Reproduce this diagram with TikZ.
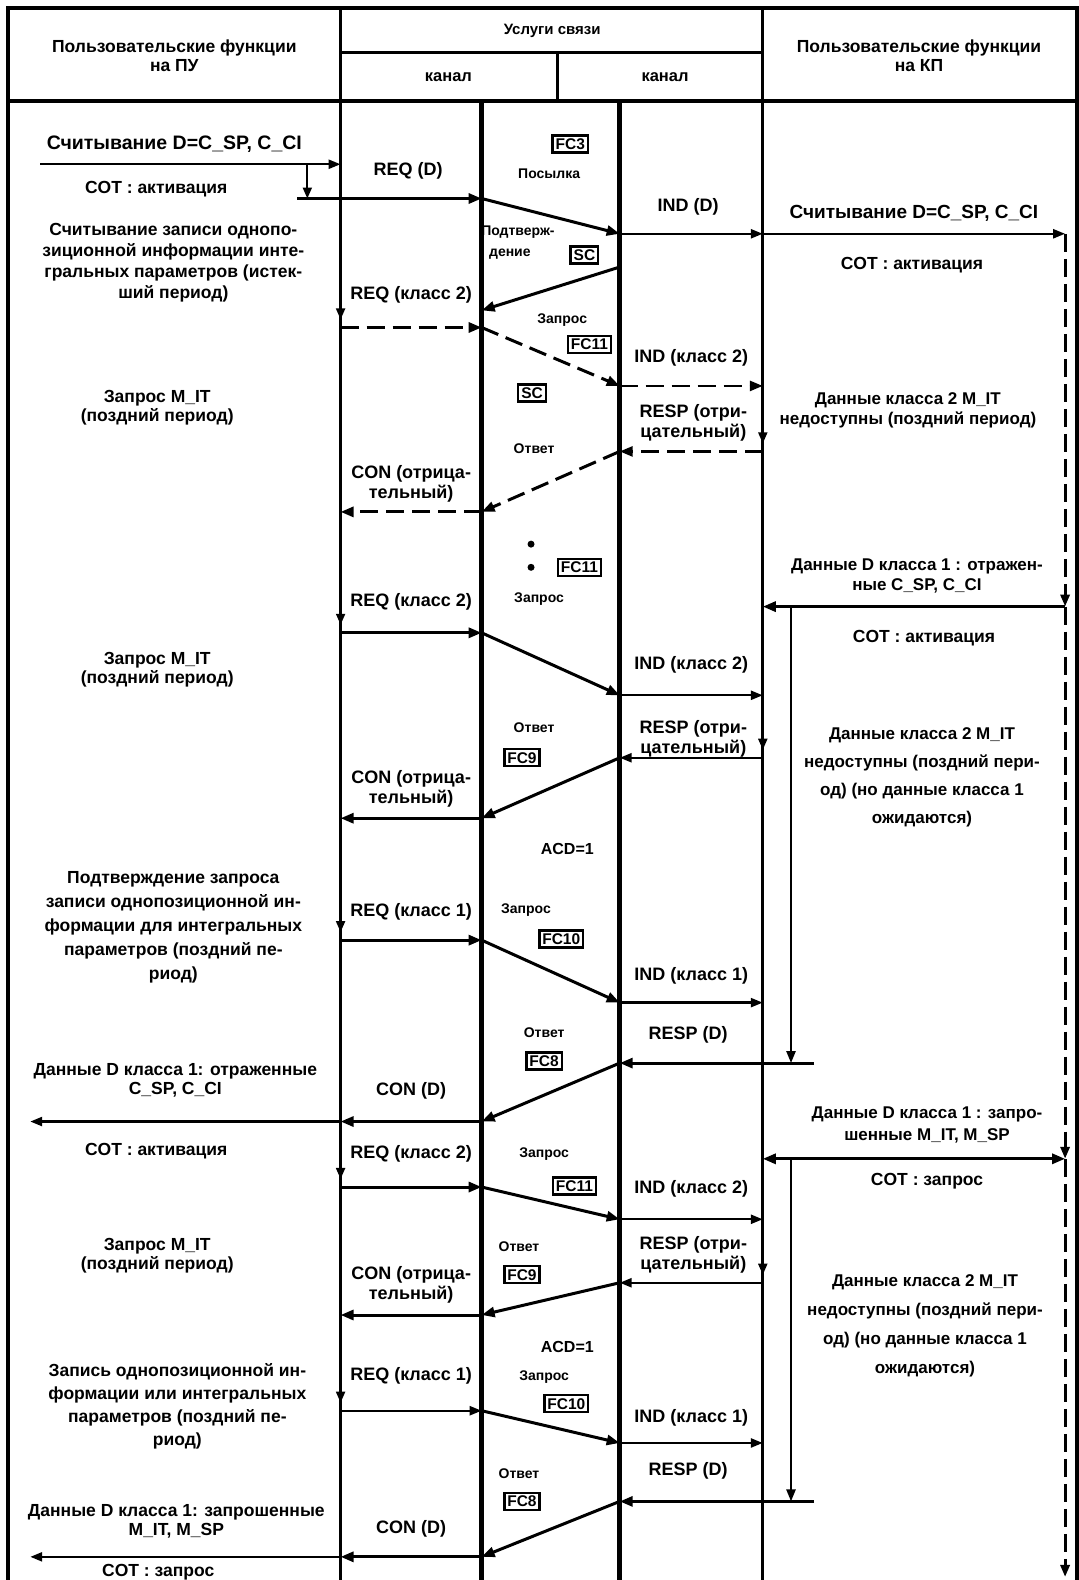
\documentclass[tikz,border=0pt]{standalone}
\usepackage{fontspec}
\setmainfont{Liberation Sans}
\usetikzlibrary{arrows.meta}
\begin{document}
\begin{tikzpicture}[x=1.0075pt,y=-1.0075pt,
  base/.style={inner sep=0pt,align=center,font=\bfseries\fontsize{17.5}{21}\selectfont},
  txt/.style={base},
  lbl/.style={base,font=\bfseries\fontsize{18}{20}\selectfont},
  note/.style={base,font=\bfseries\fontsize{14}{16}\selectfont},
  hdr/.style={base,font=\bfseries\fontsize{17.5}{19}\selectfont},
  fc/.style={draw,line width=2.4pt,inner xsep=3pt,inner ysep=3pt,font=\bfseries\fontsize{15.5}{17}\selectfont},
  outline/.style={line width=3.5pt},
  lane/.style={line width=3pt},
  wlane/.style={line width=4.5pt},
  msg/.style={line width=3pt,-{Triangle[length=13pt,width=10pt]}},
  slim/.style={line width=2.4pt,-{Triangle[length=12pt,width=9pt]}},
  dmsg/.style={msg,dash pattern=on 18pt off 8pt},
  rdash/.style={line width=3pt,dash pattern=on 18pt off 7pt,-{Triangle[length=12pt,width=9pt]}},
  flowtick/.style={line width=2pt,-{Triangle[length=11pt,width=9pt]}},
  dot/.style={circle,fill,inner sep=0pt,minimum size=7pt},
]
\useasboundingbox (0,0) rectangle (1070,1568);

% ---------- frame, header and lanes ----------
\draw[outline] (8,1568) -- (8,8) -- (1069,8) -- (1069,1568);
\draw[outline] (8,100) -- (1069,100);
\draw[lane] (338,8) -- (338,1568);
\draw[lane] (757,8) -- (757,1568);
\draw[lane] (338,52) -- (757,52);
\draw[lane] (553,52) -- (553,100);
\draw[wlane] (478,100) -- (478,1568);
\draw[wlane] (615,100) -- (615,1568);

\node[hdr] (hL) at (173,55) {Пользовательские функции\\на ПУ};
\node[hdr,font=\bfseries\fontsize{15}{17}\selectfont] (hM) at (548,31) {Услуги связи};
\node[hdr,font=\bfseries\fontsize{16.5}{18}\selectfont] (hC1) at (445,77) {канал};
\node[hdr,font=\bfseries\fontsize{16.5}{18}\selectfont] (hC2) at (660,77) {канал};
\node[hdr] (hR) at (912,55) {Пользовательские функции\\на КП};

% ---------- message points ----------
\coordinate (s0) at (40,163);   \coordinate (s1) at (338,163);
\coordinate (v0) at (305,163);  \coordinate (v1) at (305,197);
\coordinate (g1a) at (295,197); \coordinate (g1b) at (478,197);
\coordinate (g1c) at (615,232); \coordinate (g1d) at (757,232);
\coordinate (g1e) at (1057,232);
\coordinate (g2c) at (615,265); \coordinate (g2b) at (478,308);
\coordinate (g3a) at (338,325); \coordinate (g3b) at (478,325);
\coordinate (g3c) at (615,383); \coordinate (g3d) at (757,383);
\coordinate (g4d) at (757,448); \coordinate (g4c) at (615,448);
\coordinate (g4b) at (478,508); \coordinate (g4a) at (338,508);
\coordinate (g5r) at (1057,602); \coordinate (g5d) at (757,602);
\coordinate (g5e) at (785,602); \coordinate (g5f) at (785,1055);
\coordinate (g6a) at (338,628); \coordinate (g6b) at (478,628);
\coordinate (g6c) at (615,690); \coordinate (g6d) at (757,690);
\coordinate (g7d) at (757,752); \coordinate (g7c) at (615,752);
\coordinate (g7b) at (478,812); \coordinate (g7a) at (338,812);
\coordinate (g8a) at (338,933); \coordinate (g8b) at (478,933);
\coordinate (g8c) at (615,995); \coordinate (g8d) at (757,995);
\coordinate (g9f) at (808,1055); \coordinate (g9c) at (615,1055);
\coordinate (g9b) at (478,1113); \coordinate (g9a) at (338,1113);
\coordinate (g9o) at (30,1113);
\coordinate (g10d) at (757,1150); \coordinate (g10r) at (1057,1150);
\coordinate (g10e) at (785,1150); \coordinate (g10f) at (785,1490);
\coordinate (g11a) at (338,1178); \coordinate (g11b) at (478,1178);
\coordinate (g11c) at (615,1210); \coordinate (g11d) at (757,1210);
\coordinate (g12d) at (757,1273); \coordinate (g12c) at (615,1273);
\coordinate (g12b) at (478,1305); \coordinate (g12a) at (338,1305);
\coordinate (g13a) at (338,1400); \coordinate (g13b) at (478,1400);
\coordinate (g13c) at (615,1432); \coordinate (g13d) at (757,1432);
\coordinate (g14f) at (808,1490); \coordinate (g14c) at (615,1490);
\coordinate (g14b) at (478,1545); \coordinate (g14a) at (338,1545);
\coordinate (g14o) at (30,1545);
\coordinate (rend) at (1057,1565);

% ---------- messages ----------
\draw[slim] (s0) -- (s1);
\draw[flowtick] (v0) -- (v1);
\draw[msg] (g1a) -- (g1b);
\draw[msg] (g1b) -- (g1c);
\draw[slim] (g1c) -- (g1d);
\draw[slim] (g1d) -- (g1e);
\draw[rdash] (g1e) -- (g5r);
\draw[rdash] (g5r) -- (g10r);
\draw[rdash] (g10r) -- (rend);

\draw[msg] (g2c) -- (g2b);

\draw[flowtick] (g3a) ++(0,-24) -- ++(0,16);
\draw[dmsg] (g3a) -- (g3b);
\draw[dmsg] (g3b) -- (g3c);
\draw[dmsg,line width=2.6pt] (g3c) -- (g3d);

\draw[flowtick] (g4d) ++(0,-24) -- ++(0,16);
\draw[dmsg,line width=2.6pt] (g4d) -- (g4c);
\draw[dmsg] (g4c) -- (g4b);
\draw[dmsg] (g4b) -- (g4a);

\draw[msg] (g5r) -- (g5d);
\draw[slim] (g5e) -- (g5f);

\draw[flowtick] (g6a) ++(0,-24) -- ++(0,16);
\draw[msg] (g6a) -- (g6b);
\draw[msg] (g6b) -- (g6c);
\draw[slim] (g6c) -- (g6d);

\draw[flowtick] (g7d) ++(0,-24) -- ++(0,16);
\draw[slim] (g7d) -- (g7c);
\draw[msg] (g7c) -- (g7b);
\draw[msg] (g7b) -- (g7a);

\draw[flowtick] (g8a) ++(0,-24) -- ++(0,16);
\draw[msg] (g8a) -- (g8b);
\draw[msg] (g8b) -- (g8c);
\draw[slim] (g8c) -- (g8d);

\draw[msg] (g9f) -- (g9c);
\draw[msg] (g9c) -- (g9b);
\draw[msg] (g9b) -- (g9a);
\draw[slim] (g9a) -- (g9o);

\draw[msg,{Triangle[length=13pt,width=10pt]}-{Triangle[length=13pt,width=10pt]}] (g10d) -- (g10r);
\draw[slim] (g10e) -- (g10f);

\draw[flowtick] (g11a) ++(0,-24) -- ++(0,16);
\draw[msg] (g11a) -- (g11b);
\draw[msg] (g11b) -- (g11c);
\draw[slim] (g11c) -- (g11d);

\draw[flowtick] (g12d) ++(0,-24) -- ++(0,16);
\draw[slim] (g12d) -- (g12c);
\draw[msg] (g12c) -- (g12b);
\draw[msg] (g12b) -- (g12a);

\draw[flowtick] (g13a) ++(0,-24) -- ++(0,16);
\draw[slim] (g13a) -- (g13b);
\draw[msg] (g13b) -- (g13c);
\draw[slim] (g13c) -- (g13d);

\draw[msg] (g14f) -- (g14c);
\draw[msg] (g14c) -- (g14b);
\draw[msg] (g14b) -- (g14a);
\draw[slim] (g14a) -- (g14o);

% ---------- left column: user functions at the control station ----------
\node[txt,font=\bfseries\fontsize{19.5}{21}\selectfont] (l1) at (173,143) {Считывание D=C\_SP, C\_CI};
\node[txt] (l2) at (155,188) {COT : активация};
\node[txt] (l3) at (172,261) {Считывание записи однопо-\\зиционной информации инте-\\гральных параметров (истек-\\ший период)};
\node[txt,font=\bfseries\fontsize{17.5}{19}\selectfont] (l4) at (156,405) {Запрос M\_IT\\(поздний период)};
\node[txt,font=\bfseries\fontsize{17.5}{19}\selectfont] (l5) at (156,665) {Запрос M\_IT\\(поздний период)};
\node[txt,font=\bfseries\fontsize{17.5}{24}\selectfont] (l6) at (172,920) {Подтверждение запроса\\записи однопозиционной ин-\\формации для интегральных\\параметров (поздний пе-\\риод)};
\node[txt,font=\bfseries\fontsize{17.5}{19}\selectfont] (l7) at (174,1072) {Данные D класса 1: отраженные\\C\_SP, C\_CI};
\node[txt] (l8) at (155,1142) {COT : активация};
\node[txt,font=\bfseries\fontsize{17.5}{19}\selectfont] (l9) at (156,1246) {Запрос M\_IT\\(поздний период)};
\node[txt,font=\bfseries\fontsize{17.5}{23}\selectfont] (l10) at (176,1396) {Запись однопозиционной ин-\\формации или интегральных\\параметров (поздний пе-\\риод)};
\node[txt,font=\bfseries\fontsize{17.5}{19}\selectfont] (l11) at (175,1510) {Данные D класса 1: запрошенные\\M\_IT, M\_SP};
\node[txt] (l12) at (157,1560) {COT : запрос};

% ---------- first channel ----------
\node[lbl] (c1) at (405,170) {REQ (D)};
\node[lbl] (c2) at (408,293) {REQ (класс 2)};
\node[lbl] (c3) at (408,480) {CON (отрица-\\тельный)};
\node[lbl] (c4) at (408,597) {REQ (класс 2)};
\node[lbl] (c5) at (408,783) {CON (отрица-\\тельный)};
\node[lbl] (c6) at (408,905) {REQ (класс 1)};
\node[lbl] (c7) at (408,1083) {CON (D)};
\node[lbl] (c8) at (408,1145) {REQ (класс 2)};
\node[lbl] (c9) at (408,1275) {CON (отрица-\\тельный)};
\node[lbl] (c10) at (408,1365) {REQ (класс 1)};
\node[lbl] (c11) at (408,1517) {CON (D)};

% ---------- link between the channels ----------
\node[fc] (b1) at (566,143) {FC3};
\node[note] (m1) at (545,172) {Посылка};
\node[note] (m2) at (514,230) {Подтверж-};
\node[note] (m3) at (506,252) {дение};
\node[fc] (b2) at (580,253) {SC};
\node[note] (m4) at (558,318) {Запрос};
\node[fc] (b3) at (585,342) {FC11};
\node[fc] (b4) at (528,390) {SC};
\node[note] (m5) at (530,445) {Ответ};
\node[dot] (d1) at (527,540) {};
\node[dot] (d2) at (527,563) {};
\node[fc] (b5) at (575,563) {FC11};
\node[note] (m6) at (535,595) {Запрос};
\node[note] (m7) at (530,722) {Ответ};
\node[fc] (b6) at (518,752) {FC9};
\node[note,font=\bfseries\fontsize{16}{18}\selectfont] (m8) at (563,843) {ACD=1};
\node[note] (m9) at (522,903) {Запрос};
\node[fc] (b7) at (557,932) {FC10};
\node[note] (m10) at (540,1025) {Ответ};
\node[fc] (b8) at (540,1053) {FC8};
\node[note] (m11) at (540,1145) {Запрос};
\node[fc] (b9) at (570,1177) {FC11};
\node[note] (m12) at (515,1237) {Ответ};
\node[fc] (b10) at (518,1265) {FC9};
\node[note,font=\bfseries\fontsize{16}{18}\selectfont] (m13) at (563,1337) {ACD=1};
\node[note] (m14) at (540,1367) {Запрос};
\node[fc] (b11) at (562,1393) {FC10};
\node[note] (m15) at (515,1462) {Ответ};
\node[fc] (b12) at (518,1490) {FC8};

% ---------- second channel ----------
\node[lbl] (k1) at (683,205) {IND (D)};
\node[lbl] (k2) at (686,355) {IND (класс 2)};
\node[lbl] (k3) at (688,420) {RESP (отри-\\цательный)};
\node[lbl] (k4) at (686,660) {IND (класс 2)};
\node[lbl] (k5) at (688,733) {RESP (отри-\\цательный)};
\node[lbl] (k6) at (686,968) {IND (класс 1)};
\node[lbl] (k7) at (683,1027) {RESP (D)};
\node[lbl] (k8) at (686,1180) {IND (класс 2)};
\node[lbl] (k9) at (688,1245) {RESP (отри-\\цательный)};
\node[lbl] (k10) at (686,1407) {IND (класс 1)};
\node[lbl] (k11) at (683,1460) {RESP (D)};

% ---------- right column: user functions at the controlled station ----------
\node[txt,font=\bfseries\fontsize{19}{21}\selectfont] (r1) at (907,212) {Считывание D=C\_SP, C\_CI};
\node[txt] (r2) at (905,263) {COT : активация};
\node[txt,font=\bfseries\fontsize{17}{20}\selectfont] (r3) at (901,407) {Данные класса 2 M\_IT\\недоступны (поздний период)};
\node[txt,font=\bfseries\fontsize{17}{20}\selectfont] (r4) at (910,572) {Данные D класса 1 : отражен-\\ные C\_SP, C\_CI};
\node[txt] (r5) at (917,633) {COT : активация};
\node[txt,font=\bfseries\fontsize{17}{28}\selectfont] (r6) at (915,771) {Данные класса 2 M\_IT\\недоступны (поздний пери-\\од) (но данные класса 1\\ожидаются)};
\node[txt,font=\bfseries\fontsize{17}{22}\selectfont] (r7) at (920,1116) {Данные D класса 1 : запро-\\шенные M\_IT, M\_SP};
\node[txt] (r8) at (920,1172) {COT : запрос};
\node[txt,font=\bfseries\fontsize{17}{29}\selectfont] (r9) at (918,1316) {Данные класса 2 M\_IT\\недоступны (поздний пери-\\од) (но данные класса 1\\ожидаются)};
\end{tikzpicture}
\end{document}
